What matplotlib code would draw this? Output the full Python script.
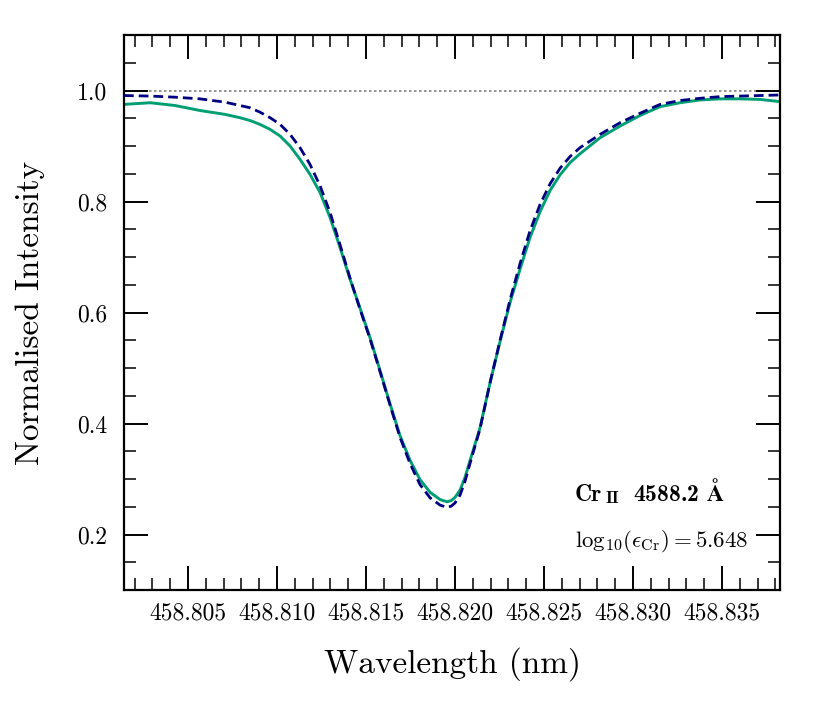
import numpy as np
import matplotlib
matplotlib.use('Agg')
import matplotlib.pyplot as plt
from matplotlib.ticker import MultipleLocator, FormatStrFormatter

plt.rcParams['font.family'] = 'serif'
plt.rcParams['font.serif'] = ['cmr10', 'DejaVu Serif']
plt.rcParams['mathtext.fontset'] = 'cm'
plt.rcParams['axes.formatter.use_mathtext'] = True

# wavelength grid (nm)
wavelength = [458.80140, 458.80287, 458.80427, 458.80567, 458.80708, 458.80792,
              458.80848, 458.80904, 458.80961, 458.81017, 458.81073, 458.81129,
              458.81185, 458.81242, 458.81298, 458.81354, 458.81410, 458.81466,
              458.81522, 458.81579, 458.81635, 458.81691, 458.81747, 458.81803,
              458.81860, 458.81916, 458.81955, 458.81978, 458.82000, 458.82028,
              458.82056, 458.82084,
              458.82140, 458.82197, 458.82253, 458.82309, 458.82365, 458.82421,
              458.82478, 458.82534, 458.82590, 458.82646, 458.82702, 458.82815,
              458.82927, 458.83039, 458.83152, 458.83264, 458.83376, 458.83489,
              458.83601, 458.83713, 458.83826]

# observed profile
observed = [0.975, 0.978, 0.973, 0.964, 0.957, 0.951,
            0.946, 0.939, 0.930, 0.918, 0.900, 0.876,
            0.849, 0.816, 0.771, 0.717, 0.660, 0.608,
            0.555, 0.495, 0.435, 0.378, 0.334, 0.299,
            0.276, 0.263, 0.259, 0.261, 0.267, 0.280,
            0.303, 0.333,
            0.392, 0.474, 0.548, 0.618, 0.678, 0.735,
            0.782, 0.820, 0.848, 0.870, 0.886, 0.915,
            0.936, 0.955, 0.971, 0.978, 0.983, 0.985,
            0.985, 0.984, 0.980]

# synthetic profile
synthetic = [0.991, 0.990, 0.988, 0.985, 0.979, 0.973,
             0.969, 0.961, 0.951, 0.939, 0.921, 0.897,
             0.867, 0.828, 0.780, 0.722, 0.662, 0.606,
             0.553, 0.493, 0.433, 0.375, 0.328, 0.290,
             0.266, 0.253, 0.249, 0.251, 0.257, 0.271,
             0.296, 0.328,
             0.390, 0.474, 0.550, 0.623, 0.688, 0.747,
             0.795, 0.832, 0.860, 0.881, 0.897, 0.921,
             0.942, 0.959, 0.975, 0.982, 0.986, 0.989,
             0.990, 0.991, 0.992]

continuum = 1.0
abundance = 5.648

fig = plt.figure(figsize=(8.3, 7.12), dpi=100)
ax = fig.add_axes([0.1494, 0.1713, 0.7904, 0.7795])

ax.axhline(continuum, color='grey', ls=(0, (1.5, 1.5)), lw=1.2, zorder=1)
ax.plot(wavelength, observed, color='#009E73', lw=2.1, zorder=2)
ax.plot(wavelength, synthetic, color='#000080', lw=2.0, ls=(0, (3.5, 1.8)), zorder=3)

ax.set_xlim(458.8014, 458.83826)
ax.set_ylim(0.1, 1.1)

ax.xaxis.set_major_locator(MultipleLocator(0.005))
ax.xaxis.set_minor_locator(MultipleLocator(0.001))
ax.yaxis.set_major_locator(MultipleLocator(0.2))
ax.yaxis.set_minor_locator(MultipleLocator(0.05))
ax.xaxis.set_major_formatter(FormatStrFormatter('%.3f'))
ax.yaxis.set_major_formatter(FormatStrFormatter('%.1f'))

ax.tick_params(which='both', direction='in', top=True, right=True, labelsize=17)
ax.tick_params(which='major', length=17, width=1.4)
ax.tick_params(which='minor', length=8.5, width=1.1)
ax.tick_params(axis='x', which='major', pad=9)
ax.tick_params(axis='y', which='major', pad=12)
for sp in ax.spines.values():
    sp.set_linewidth(1.6)

ax.set_xlabel('Wavelength (nm)', fontsize=24, labelpad=16)
ax.set_ylabel('Normalised Intensity', fontsize=24, labelpad=23)

# line label: "Cr II  4588.2 A" with small-caps ionisation stage
t_el = ax.text(0.6875, 0.151, 'Cr', transform=ax.transAxes, family='cmb10',
               ha='left', va='bottom', fontsize=17)
t_ion = ax.annotate('II', xy=(1, 0), xycoords=t_el, family='cmb10',
                    xytext=(2.5, 0), textcoords='offset points',
                    ha='left', va='bottom', fontsize=12.5)
ax.annotate(r'4588.2 $\mathbf{\AA}$', xy=(1, 0), xycoords=t_ion, family='cmb10',
            xytext=(10, 0), textcoords='offset points',
            ha='left', va='bottom', fontsize=17)
ax.text(0.6875, 0.077, r'$\mathrm{log}_{10}(\epsilon_{\rm Cr}) = %.3f$' % abundance,
        transform=ax.transAxes, ha='left', va='baseline', fontsize=16.5)

fig.savefig('out.png', dpi=100)
